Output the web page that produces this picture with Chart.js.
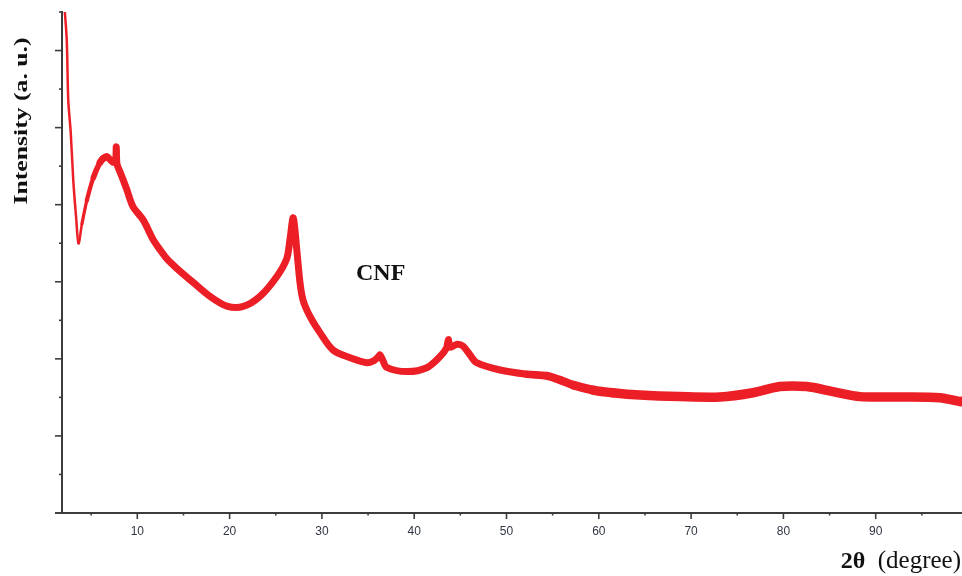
<!DOCTYPE html>
<html>
<head>
<meta charset="utf-8">
<title>CNF XRD</title>
<script src="https://cdn.jsdelivr.net/npm/chart.js@4.4.1/dist/chart.umd.min.js"></script>
<style>
    html, body { margin: 0; padding: 0; background: #fff; }
    #wrap { width: 962px; height: 576px; }
</style>
</head>
<body>
<div id="wrap"><canvas id="xrdChart" width="962" height="576"></canvas></div>
<script>
// 2-theta positions (degree)
const twoTheta = [
    2.05, 2.35, 2.52, 2.78, 3.07, 3.36, 3.63, 4.0, 4.52, 5.23,
    5.96, 6.32, 6.68, 7.37, 7.64, 7.72, 7.8, 8.13, 8.85, 9.53,
    10.65, 11.7, 12.46, 13.19, 14.27, 16.07, 17.88, 19.69, 21.48, 23.29,
    25.1, 26.19, 26.54, 26.9, 27.27, 27.63, 27.95, 28.71, 29.79, 31.2,
    33.05, 34.85, 35.6, 36.1, 36.3, 36.6, 37.02, 39.19, 41.35, 42.8,
    43.5, 43.7, 43.9, 44.64, 45.29, 46.05, 46.77, 49.3, 52.19, 54.36,
    55.8, 57.2, 59.37, 61.5, 64.46, 68.8, 73.13, 76.71, 79.63, 82.52,
    85.37, 88.3, 92.63, 96.97, 99.13, 99.35
];

// intensity (a. u.), same order as twoTheta
const intensity = [
    13.3, 12.3, 10.7, 9.9, 8.6, 7.7, 7.0, 7.5, 8.1, 8.7,
    9.1, 9.2, 9.25, 9.1, 9.15, 9.5, 9.05, 8.85, 8.4, 7.95,
    7.6, 7.1, 6.83, 6.6, 6.35, 5.98, 5.62, 5.37, 5.36, 5.62,
    6.13, 6.6, 7.1, 7.66, 6.85, 5.97, 5.53, 5.1, 4.68, 4.23,
    4.03, 3.9, 3.95, 4.05, 4.1, 3.96, 3.78, 3.67, 3.77, 4.06,
    4.28, 4.5, 4.3, 4.38, 4.33, 4.1, 3.9, 3.71, 3.6, 3.56,
    3.45, 3.32, 3.19, 3.12, 3.06, 3.02, 3.01, 3.12, 3.28, 3.28,
    3.15, 3.02, 3.01, 2.99, 2.89, 2.9
];

// axis ticks
const xLabelTicks = [10, 20, 30, 40, 50, 60, 70, 80, 90];
const xMinorTicks = [5, 15, 25, 35, 45, 55, 65, 75, 85, 95];
const yTicks = [0, 1, 2, 3, 4, 5, 6, 7, 8, 9, 10, 11, 12, 13];

const sampleLabel = 'CNF';
const xTitleBold = '2θ';
const xTitleRest = '  (degree)';
const yTitle = 'Intensity (a. u.)';

const lineRed = '#ec1f26';
const axisGrey = '#3c3c3c';

// the noisy trace looks thin on the steep start and thicker where flat
function bandWidth(x) {
    if (x < 3.6) return 2.5;
    if (x < 6) return 2.5 + (x - 3.6) * 1.9;
    if (x < 50) return 7;
    if (x < 60) return 7 + (x - 50) * 0.25;
    return 9.5;
}

// ticks, titles and the sample label
const axisDecor = {
    id: 'axisDecor',
    afterDraw(chart) {
        const { ctx, chartArea } = chart;
        const xs = chart.scales.x;
        const ys = chart.scales.y;
        ctx.save();
        ctx.strokeStyle = axisGrey;
        ctx.lineWidth = 1.6;

        // little overhang of the x axis past the y axis
        ctx.beginPath();
        ctx.moveTo(chartArea.left - 7, chartArea.bottom);
        ctx.lineTo(chartArea.left, chartArea.bottom);
        ctx.stroke();

        yTicks.forEach(v => {
            const py = ys.getPixelForValue(v);
            const len = v % 2 === 0 ? 7 : 3;
            ctx.beginPath();
            ctx.moveTo(chartArea.left - len, py);
            ctx.lineTo(chartArea.left, py);
            ctx.stroke();
        });

        xLabelTicks.forEach(v => {
            const px = xs.getPixelForValue(v);
            ctx.beginPath();
            ctx.moveTo(px, chartArea.bottom);
            ctx.lineTo(px, chartArea.bottom + 6);
            ctx.stroke();
        });
        xMinorTicks.forEach(v => {
            const px = xs.getPixelForValue(v);
            ctx.beginPath();
            ctx.moveTo(px, chartArea.bottom);
            ctx.lineTo(px, chartArea.bottom + 2.5);
            ctx.stroke();
        });

        // y title, stretched along its length like the original
        ctx.fillStyle = '#111';
        ctx.font = 'bold 18px "Liberation Serif", "Times New Roman", serif';
        const w = ctx.measureText(yTitle).width;
        ctx.translate(22, 121);
        ctx.rotate(-Math.PI / 2);
        ctx.scale(167 / w, 1);
        ctx.textAlign = 'center';
        ctx.textBaseline = 'middle';
        ctx.fillText(yTitle, 0, 0);
        ctx.setTransform(1, 0, 0, 1, 0, 0);

        // x title at the bottom right, bold symbol + regular unit
        ctx.textAlign = 'left';
        ctx.textBaseline = 'alphabetic';
        ctx.font = '25px "Liberation Serif", "Times New Roman", serif';
        const restW = ctx.measureText(xTitleRest).width;
        ctx.fillText(xTitleRest, 961 - restW, 568);
        ctx.font = 'bold 24px "Liberation Serif", "Times New Roman", serif';
        const boldW = ctx.measureText(xTitleBold).width;
        ctx.fillText(xTitleBold, 961 - restW - boldW, 568);

        // sample name
        ctx.font = 'bold 24px "Liberation Serif", "Times New Roman", serif';
        ctx.fillText(sampleLabel, 356, 280);

        ctx.restore();
    }
};

const points = twoTheta.map((t, i) => ({ x: t, y: intensity[i] }));

new Chart(document.getElementById('xrdChart'), {
    type: 'line',
    data: {
        datasets: [{
            label: sampleLabel,
            data: points,
            borderColor: lineRed,
            backgroundColor: lineRed,
            borderWidth: 7,
            pointRadius: 0,
            tension: 0.3,
            borderJoinStyle: 'round',
            borderCapStyle: 'round',
            segment: {
                borderWidth: ctx => bandWidth(ctx.p0.parsed.x)
            }
        }]
    },
    options: {
        responsive: false,
        animation: false,
        layout: { padding: { top: 12, right: 0, left: 0, bottom: 0 } },
        plugins: {
            legend: { display: false },
            tooltip: { enabled: false }
        },
        scales: {
            x: {
                type: 'linear',
                min: 1.84,
                max: 99.35,
                afterBuildTicks: scale => {
                    scale.ticks = xLabelTicks.map(v => ({ value: v }));
                },
                afterFit: scale => { scale.height = 63; },
                grid: { display: true, drawOnChartArea: false, drawTicks: false },
                border: { display: true, color: axisGrey, width: 2 },
                ticks: {
                    padding: 11,
                    color: '#2f3642',
                    font: { family: 'Arial, "Liberation Sans", sans-serif', size: 12 },
                    maxRotation: 0
                }
            },
            y: {
                type: 'linear',
                min: 0,
                max: 13,
                afterFit: scale => { scale.width = 62; },
                grid: { display: true, drawOnChartArea: false, drawTicks: false },
                border: { display: true, color: axisGrey, width: 2 },
                ticks: { display: false, stepSize: 1 }
            }
        }
    },
    plugins: [axisDecor]
});
</script>
</body>
</html>
